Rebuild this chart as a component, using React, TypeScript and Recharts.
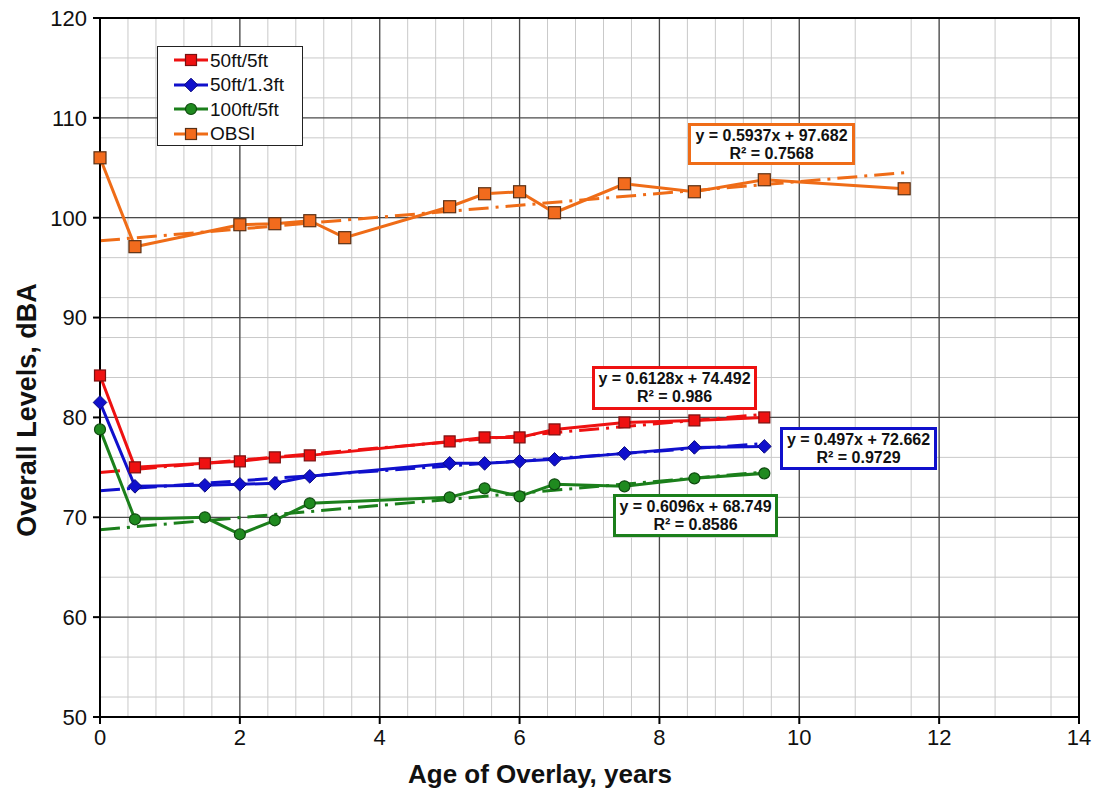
import React from 'react';
import { LineChart, Line, XAxis, YAxis, CartesianGrid, Legend } from 'recharts';

// ages (years) for the three wayside series
const ages = [0, 0.5, 1.5, 2, 2.5, 3, 5, 5.5, 6, 6.5, 7.5, 8.5, 9.5];
const red50x5 = [84.2, 75.0, 75.4, 75.6, 76.0, 76.2, 77.6, 78.0, 78.0, 78.8, 79.5, 79.7, 80.0];
const blue50x13 = [81.5, 73.1, 73.2, 73.3, 73.4, 74.1, 75.4, 75.4, 75.6, 75.8, 76.4, 77.0, 77.1];
const green100x5 = [78.8, 69.8, 70.0, 68.3, 69.7, 71.4, 72.0, 72.9, 72.1, 73.3, 73.1, 73.9, 74.4];

// OBSI has its own ages
const obsiAges = [0, 0.5, 2, 2.5, 3, 3.5, 5, 5.5, 6, 6.5, 7.5, 8.5, 9.5, 11.5];
const obsiVals = [106.0, 97.1, 99.3, 99.4, 99.7, 98.0, 101.1, 102.4, 102.6, 100.5, 103.4, 102.6, 103.8, 102.9];

// linear trend coefficients as printed on the chart
const slopes = [0.6128, 0.497, 0.6096, 0.5937];
const intercepts = [74.492, 72.662, 68.749, 97.682];
const r2 = ['0.986', '0.9729', '0.8586', '0.7568'];

const seriesNames = ['50ft/5ft', '50ft/1.3ft', '100ft/5ft', 'OBSI'];
const xTicks = [0, 2, 4, 6, 8, 10, 12, 14];
const yTicks = [50, 60, 70, 80, 90, 100, 110, 120];

const minorX = Array.from({ length: 36 }, (_, i) => +(i * 0.4).toFixed(1));
const minorY = Array.from({ length: 36 }, (_, i) => 50 + i * 2);

const colors = ['#ee1111', '#1010cc', '#1b7f1b', '#ef6c17'];
const markerFill = ['#ee1111', '#1010cc', '#1f8a1f', '#f26b1d'];
const markerEdge = ['#7a1010', '#0a0a80', '#0f4a0f', '#5a3015'];
const shapes = ['square', 'diamond', 'circle', 'square'];

const FONT = '"Liberation Sans", Arial, sans-serif';

const toPoints = (xs: number[], ys: number[]) => xs.map((x, i) => ({ x, y: ys[i] }));

const seriesData = [
  toPoints(ages, red50x5),
  toPoints(ages, blue50x13),
  toPoints(ages, green100x5),
  toPoints(obsiAges, obsiVals),
];

const trendData = seriesData.map((pts, i) => {
  const x1 = pts[pts.length - 1].x;
  return [
    { x: 0, y: intercepts[i] },
    { x: x1, y: intercepts[i] + slopes[i] * x1 },
  ];
});

function Marker({ cx, cy, shape, fill, edge, size }: any) {
  if (cx == null || cy == null) return null;
  if (shape === 'square') {
    const s = size;
    return <rect x={cx - s / 2} y={cy - s / 2} width={s} height={s} fill={fill} stroke={edge} strokeWidth={1.2} />;
  }
  if (shape === 'diamond') {
    const s = size * 0.62;
    return (
      <polygon
        points={`${cx},${cy - s} ${cx + s},${cy} ${cx},${cy + s} ${cx - s},${cy}`}
        fill={fill}
        stroke={edge}
        strokeWidth={1}
      />
    );
  }
  return <circle cx={cx} cy={cy} r={size / 2} fill={fill} stroke={edge} strokeWidth={1.2} />;
}

const makeDot = (i: number) => (props: any) => (
  <Marker
    key={`d${i}-${props.index}`}
    cx={props.cx}
    cy={props.cy}
    shape={shapes[i]}
    fill={markerFill[i]}
    edge={markerEdge[i]}
    size={i === 3 ? 12 : 11}
  />
);

const LegendBox = () => (
  <div
    style={{
      border: '1px solid #222',
      background: '#fff',
      width: 146,
      height: 100,
      boxSizing: 'border-box',
      paddingTop: 1,
      fontFamily: FONT,
      fontSize: 19,
      lineHeight: '21px',
      color: '#111',
    }}
  >
    {seriesNames.map((n, i) => (
      <div key={n} style={{ display: 'flex', alignItems: 'center', height: 24.5 }}>
        <svg width={52} height={20} style={{ display: 'block' }}>
          <line x1={16} x2={50} y1={10} y2={10} stroke={colors[i]} strokeWidth={3} />
          <Marker cx={33} cy={10} shape={shapes[i]} fill={markerFill[i]} edge={markerEdge[i]} size={11} />
        </svg>
        <span>{n}</span>
      </div>
    ))}
  </div>
);

// equation boxes, in series order
const eqBoxes = [
  { left: 592, top: 366, width: 165, height: 44 },
  { left: 780, top: 427, width: 157, height: 43 },
  { left: 613, top: 494, width: 165, height: 43 },
  { left: 688, top: 123, width: 167, height: 42 },
];

const fmtEq = (i: number) => `y = ${slopes[i]}x + ${intercepts[i]}`;

export default function App() {
  return (
    <div style={{ position: 'absolute', left: 0, top: 0, width: 1094, height: 790, background: '#fff' }}>
      <LineChart width={1094} height={790} margin={{ top: 18, right: 15, bottom: 0, left: 0 }}>
        <CartesianGrid verticalValues={minorX} horizontalValues={minorY} stroke="#c9c9c9" strokeWidth={1} />
        <CartesianGrid verticalValues={xTicks} horizontalValues={yTicks} stroke="#4a4a4a" strokeWidth={1.3} />
        <XAxis
          dataKey="x"
          type="number"
          domain={[0, 14]}
          ticks={xTicks}
          allowDuplicatedCategory={false}
          height={73}
          stroke="#000"
          strokeWidth={2}
          tickSize={7}
          tickMargin={5}
          tick={{ fill: '#111', fontSize: 22, fontFamily: FONT }}
          label={{
            content: () => (
              <text x={540} y={783} textAnchor="middle" fontFamily={FONT} fontWeight="bold" fontSize={26} fill="#111">
                Age of Overlay, years
              </text>
            ),
          }}
        />
        <YAxis
          type="number"
          domain={[50, 120]}
          ticks={yTicks}
          width={100}
          stroke="#000"
          strokeWidth={2}
          tickSize={7}
          tickMargin={6}
          tick={{ fill: '#111', fontSize: 22, fontFamily: FONT }}
          label={{
            content: () => (
              <text
                x={27}
                y={410}
                transform="rotate(-90 27 410)"
                textAnchor="middle"
                dominantBaseline="central"
                fontFamily={FONT}
                fontWeight="bold"
                fontSize={27}
                fill="#111"
              >
                Overall Levels, dBA
              </text>
            ),
          }}
        />
        {trendData.map((d, i) => (
          <Line
            key={`t${i}`}
            data={d}
            dataKey="y"
            stroke={colors[i]}
            strokeWidth={3}
            strokeDasharray="20 7 3 7"
            dot={false}
            activeDot={false}
            legendType="none"
            isAnimationActive={false}
          />
        ))}
        {seriesData.map((d, i) => (
          <Line
            key={`s${i}`}
            data={d}
            dataKey="y"
            name={seriesNames[i]}
            stroke={colors[i]}
            strokeWidth={3}
            dot={makeDot(i)}
            activeDot={false}
            isAnimationActive={false}
          />
        ))}
        <Legend
          layout="horizontal"
          verticalAlign="middle"
          align="center"
          wrapperStyle={{ left: 157, top: 46, width: 'auto', height: 'auto' }}
          content={() => <LegendBox />}
        />
      </LineChart>
      <div
        style={{
          position: 'absolute',
          left: 100,
          top: 17,
          width: 980,
          height: 700,
          borderTop: '2px solid #000',
          borderRight: '2px solid #000',
          boxSizing: 'border-box',
          pointerEvents: 'none',
        }}
      />
      {eqBoxes.map((b, i) => (
        <div
          key={i}
          style={{
            position: 'absolute',
            left: b.left,
            top: b.top,
            width: b.width,
            height: b.height,
            boxSizing: 'border-box',
            border: `3px solid ${colors[i]}`,
            background: '#fff',
            fontFamily: FONT,
            fontWeight: 'bold',
            fontSize: 16,
            lineHeight: '18px',
            color: '#111',
            textAlign: 'center',
            paddingTop: 1,
            whiteSpace: 'nowrap',
          }}
        >
          <div>{fmtEq(i)}</div>
          <div>R² = {r2[i]}</div>
        </div>
      ))}
    </div>
  );
}
